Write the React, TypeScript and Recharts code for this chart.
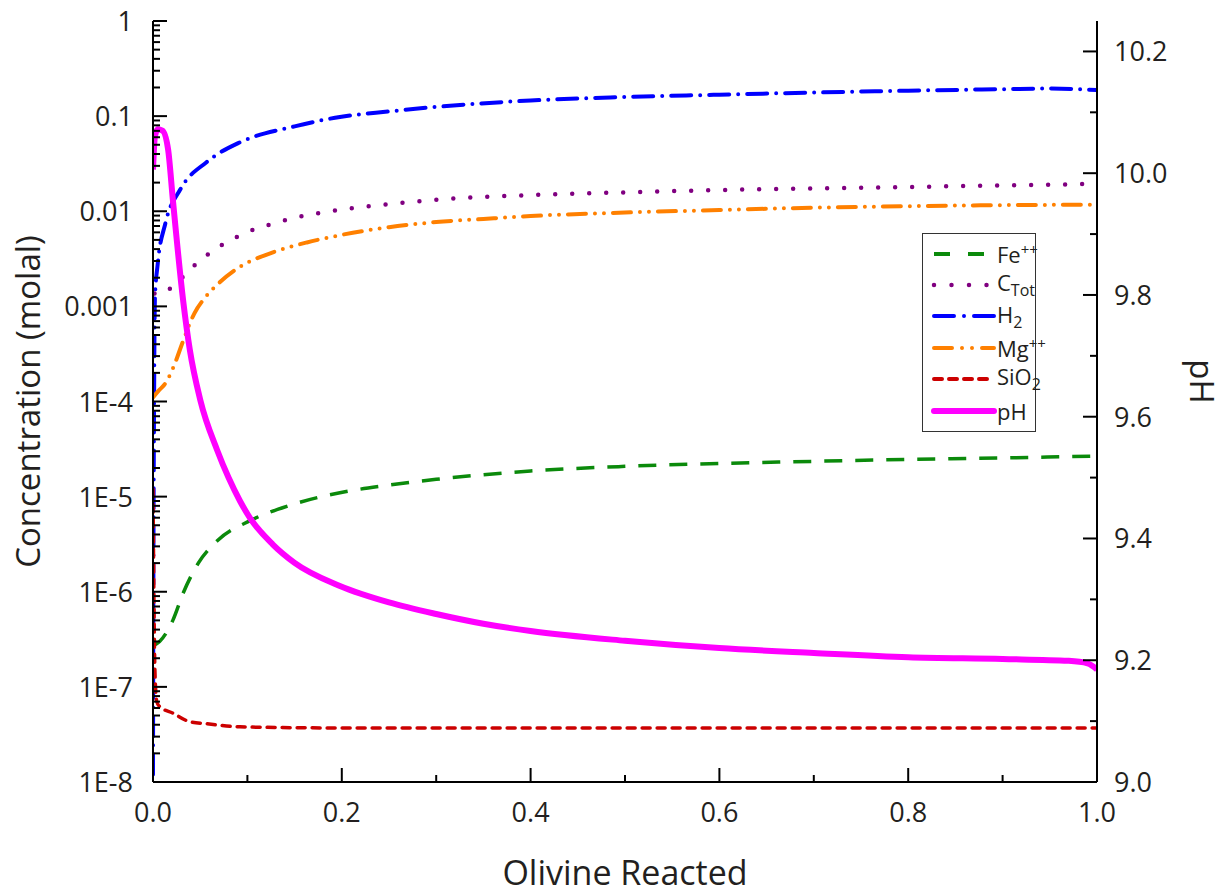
import React from 'react';
import { LineChart, Line, XAxis, YAxis } from 'recharts';

// ---- data ----
const feX = [0, 0.007, 0.021, 0.032, 0.048, 0.069, 0.103, 0.145, 0.198, 0.25, 0.3, 0.35, 0.4, 0.5, 0.6, 0.7, 0.8, 0.9, 1.0];
const feY = [2.7e-7, 3e-7, 5e-7, 9.7e-7, 2.0e-6, 3.5e-6, 5.6e-6, 8.1e-6, 1.1e-5, 1.32e-5, 1.52e-5, 1.7e-5, 1.86e-5, 2.08e-5, 2.23e-5, 2.35e-5, 2.46e-5, 2.55e-5, 2.67e-5];

const cX = [0, 0.002, 0.016, 0.042, 0.058, 0.074, 0.091, 0.108, 0.127, 0.145, 0.182, 0.24, 0.3, 0.4, 0.5, 0.6, 0.7, 0.8, 0.9, 1.0];
const cY = [0.0009, 0.0014, 0.0015, 0.0026, 0.0035, 0.0045, 0.0055, 0.0065, 0.0074, 0.0083, 0.0098, 0.0116, 0.0132, 0.0148, 0.0158, 0.0167, 0.0174, 0.018, 0.0187, 0.0194];

const h2X = [0, 0.0005, 0.001, 0.002, 0.005, 0.013, 0.029, 0.057, 0.092, 0.15, 0.198, 0.25, 0.3, 0.4, 0.5, 0.6, 0.7, 0.8, 0.9, 0.95, 1.0];
const h2Y = [1.2e-8, 3e-6, 5e-5, 0.0012, 0.0028, 0.0074, 0.017, 0.033, 0.053, 0.078, 0.098, 0.112, 0.125, 0.146, 0.159, 0.168, 0.177, 0.185, 0.192, 0.195, 0.188];

const mgX = [0, 0.006, 0.012, 0.018, 0.025, 0.031, 0.044, 0.057, 0.071, 0.092, 0.127, 0.163, 0.198, 0.25, 0.3, 0.35, 0.4, 0.5, 0.6, 0.7, 0.8, 0.9, 1.0];
const mgY = [1.1e-4, 1.3e-4, 1.5e-4, 1.9e-4, 2.8e-4, 4.1e-4, 8.5e-4, 0.0013, 0.0018, 0.0026, 0.0037, 0.0047, 0.0056, 0.0068, 0.0077, 0.0083, 0.0089, 0.0097, 0.0103, 0.0109, 0.0113, 0.0116, 0.0117];

const siX = [0, 0.001, 0.002, 0.004, 0.007, 0.021, 0.039, 0.057, 0.092, 0.2, 0.4, 0.6, 0.8, 1.0];
const siY = [1.2e-5, 8e-7, 1.5e-7, 7e-8, 6.2e-8, 5.3e-8, 4.3e-8, 4.1e-8, 3.8e-8, 3.7e-8, 3.7e-8, 3.7e-8, 3.7e-8, 3.7e-8];

const phX = [0, 0.002, 0.005, 0.01, 0.016, 0.021, 0.032, 0.039, 0.05, 0.068, 0.08, 0.092, 0.103, 0.127, 0.15, 0.198, 0.25, 0.3, 0.35, 0.4, 0.5, 0.6, 0.7, 0.8, 0.9, 0.97, 0.99, 1.0];
const phY = [10.006, 10.06, 10.072, 10.07, 10.039, 9.957, 9.79, 9.71, 9.628, 9.545, 9.5, 9.462, 9.433, 9.39, 9.36, 9.322, 9.295, 9.276, 9.26, 9.248, 9.232, 9.22, 9.212, 9.205, 9.202, 9.199, 9.195, 9.185];

const xTicks = [0, 0.1, 0.2, 0.3, 0.4, 0.5, 0.6, 0.7, 0.8, 0.9, 1.0];
const phTicks = [9.0, 9.1, 9.2, 9.3, 9.4, 9.5, 9.6, 9.7, 9.8, 9.9, 10.0, 10.1, 10.2];
const concMajor = [1e-8, 1e-7, 1e-6, 1e-5, 1e-4, 1e-3, 1e-2, 1e-1, 1];
const concLabels = ['1E-8', '1E-7', '1E-6', '1E-5', '1E-4', '0.001', '0.01', '0.1', '1'];

const concTicks: number[] = [];
for (let e = -8; e <= 0; e++) {
  concTicks.push(Math.pow(10, e));
  if (e < 0) for (let d = 2; d <= 9; d++) concTicks.push(d * Math.pow(10, e));
}

const pts = (xs: number[], ys: number[]) => xs.map((x, i) => ({ x, y: ys[i] }));

const TXT = '#231f20';
const FONT = '"Open Sans", "DejaVu Sans", sans-serif';

const isMajorLog = (v: number) => {
  const l = Math.log10(v);
  return Math.abs(l - Math.round(l)) < 1e-6;
};
const concLabel = (v: number) => {
  const i = concMajor.findIndex((m) => Math.abs(Math.log10(m) - Math.log10(v)) < 1e-6);
  return i >= 0 ? concLabels[i] : '';
};

const LeftTick = (props: any) => {
  const { x, y, payload } = props;
  const v = payload.value;
  const major = isMajorLog(v);
  return (
    <g>
      <line x1={x} x2={x + (major ? 14 : 7)} y1={y} y2={y} stroke="#000" strokeWidth={2} />
      {major && (
        <text x={x - 20} y={y + 10} textAnchor="end" fontSize={27} fontFamily={FONT} fill={TXT}>
          {concLabel(v)}
        </text>
      )}
    </g>
  );
};

const RightTick = (props: any) => {
  const { x, y, payload } = props;
  const v = payload.value;
  const major = Math.round(v * 10) % 2 === 0;
  return (
    <g>
      <line x1={x} x2={x - (major ? 14 : 7)} y1={y} y2={y} stroke="#000" strokeWidth={2} />
      {major && (
        <text x={x + 17} y={y + 10} textAnchor="start" fontSize={27} fontFamily={FONT} fill={TXT}>
          {v.toFixed(1)}
        </text>
      )}
    </g>
  );
};

const BottomTick = (props: any) => {
  const { x, y, payload } = props;
  const v = payload.value;
  const major = Math.round(v * 10) % 2 === 0;
  return (
    <g>
      <line x1={x} x2={x} y1={y} y2={y - (major ? 14 : 7)} stroke="#000" strokeWidth={2} />
      {major && (
        <text x={x} y={y + 40} textAnchor="middle" fontSize={27} fontFamily={FONT} fill={TXT}>
          {v.toFixed(1)}
        </text>
      )}
    </g>
  );
};

const TopTick = (props: any) => {
  const { x, y, payload } = props;
  const v = payload.value;
  const major = Math.round(v * 10) % 2 === 0;
  return <line x1={x} x2={x} y1={y} y2={y + (major ? 14 : 7)} stroke="#000" strokeWidth={2} />;
};

const series = [
  { key: 'fe', data: pts(feX, feY), color: '#0b8a0b', dash: '18 13', width: 3.5, cap: 'butt' as const },
  { key: 'c', data: pts(cX, cY), color: '#800080', dash: '0 17', width: 4.5, cap: 'round' as const },
  { key: 'h2', data: pts(h2X, h2Y), color: '#0000ff', dash: '20 9 0 9', width: 4, cap: 'round' as const },
  { key: 'mg', data: pts(mgX, mgY), color: '#ff8000', dash: '18 9 0 9 0 9', width: 4, cap: 'round' as const },
  { key: 'si', data: pts(siX, siY), color: '#cc0000', dash: '8 7', width: 3.5, cap: 'round' as const },
];

const legendItems = [
  { label: <>Fe<sup style={{ fontSize: 15 }}>++</sup></>, color: '#0b8a0b', dash: '16 18', width: 4, cap: 'butt' },
  { label: <>C<sub style={{ fontSize: 16 }}>Tot</sub></>, color: '#800080', dash: '0 17.5', width: 4.5, cap: 'round' },
  { label: <>H<sub style={{ fontSize: 16 }}>2</sub></>, color: '#0000ff', dash: '20 10 0 10', width: 4, cap: 'round' },
  { label: <>Mg<sup style={{ fontSize: 15 }}>++</sup></>, color: '#ff8000', dash: '18 10 0 10 0 10', width: 4, cap: 'round' },
  { label: <>SiO<sub style={{ fontSize: 16 }}>2</sub></>, color: '#cc0000', dash: '8 7', width: 4, cap: 'round' },
  { label: <>pH</>, color: '#ff00ff', dash: '', width: 6, cap: 'round' },
];

export default function App() {
  return (
    <div style={{ position: 'absolute', left: 0, top: 0, width: 1229, height: 895, background: '#fff' }}>
      <LineChart width={1229} height={895} margin={{ top: 21, right: 0, bottom: 0, left: 0 }}>
        <XAxis
          xAxisId="b"
          dataKey="x"
          type="number"
          domain={[0, 1]}
          ticks={xTicks}
          interval={0}
          height={113}
          tickSize={0}
          tickMargin={0}
          tickLine={false}
          axisLine={{ stroke: '#000', strokeWidth: 2 }}
          tick={<BottomTick />}
          allowDataOverflow
          label={(p: any) => {
            const vb = p.viewBox;
            return (
              <text x={vb.x + vb.width / 2} y={885} textAnchor="middle" fontSize={34} fontFamily={FONT} fill={TXT}>
                Olivine Reacted
              </text>
            );
          }}
        />
        <XAxis
          xAxisId="t"
          orientation="top"
          type="number"
          domain={[0, 1]}
          ticks={xTicks}
          interval={0}
          height={0}
          tickSize={0}
          tickMargin={0}
          tickLine={false}
          axisLine={{ stroke: '#000', strokeWidth: 2 }}
          tick={<TopTick />}
        />
        <YAxis
          yAxisId="c"
          scale="log"
          type="number"
          domain={[1e-8, 1]}
          ticks={concTicks}
          interval={0}
          width={153}
          tickSize={0}
          tickMargin={0}
          tickLine={false}
          axisLine={{ stroke: '#000', strokeWidth: 2 }}
          tick={<LeftTick />}
          allowDataOverflow
          label={(p: any) => {
            const vb = p.viewBox;
            const cy = vb.y + vb.height / 2;
            return (
              <text x={40} y={cy} transform={`rotate(-90 40 ${cy})`} textAnchor="middle" fontSize={33} fontFamily={FONT} fill={TXT}>
                Concentration (molal)
              </text>
            );
          }}
        />
        <YAxis
          yAxisId="ph"
          orientation="right"
          type="number"
          domain={[9, 10.25]}
          ticks={phTicks}
          interval={0}
          width={132}
          tickSize={0}
          tickMargin={0}
          tickLine={false}
          axisLine={{ stroke: '#000', strokeWidth: 2 }}
          tick={<RightTick />}
          allowDataOverflow
          label={(p: any) => {
            const vb = p.viewBox;
            const cy = vb.y + vb.height / 2 - 20;
            return (
              <text x={1190} y={cy} transform={`rotate(90 1190 ${cy})`} textAnchor="middle" fontSize={33} fontFamily={FONT} fill={TXT}>
                pH
              </text>
            );
          }}
        />
        {series.map((s) => (
          <Line
            key={s.key}
            xAxisId="b"
            yAxisId="c"
            data={s.data}
            dataKey="y"
            type="monotone"
            stroke={s.color}
            strokeWidth={s.width}
            strokeDasharray={s.dash}
            strokeLinecap={s.cap}
            dot={false}
            activeDot={false}
            isAnimationActive={false}
          />
        ))}
        <Line
          xAxisId="b"
          yAxisId="ph"
          data={pts(phX, phY)}
          dataKey="y"
          type="monotone"
          stroke="#ff00ff"
          strokeWidth={6}
          dot={false}
          activeDot={false}
          isAnimationActive={false}
        />
      </LineChart>
      <div
        style={{
          position: 'absolute',
          left: 922,
          top: 233,
          width: 114,
          height: 199,
          border: '1.5px solid #333',
          boxSizing: 'border-box',
          background: '#fff',
          fontFamily: FONT,
          color: TXT,
          fontSize: 22,
        }}
      >
        {legendItems.map((it, i) => (
          <div key={i} style={{ position: 'absolute', left: 8, top: 4 + i * 31.4, height: 31, display: 'flex', alignItems: 'center', whiteSpace: 'nowrap', lineHeight: 1 }}>
            <svg width={66} height={12} style={{ display: 'block' }}>
              <line x1={3} x2={63} y1={6} y2={6} stroke={it.color} strokeWidth={it.width} strokeDasharray={it.dash || undefined} strokeLinecap={it.cap as any} />
            </svg>
            <span style={{ marginLeft: 0 }}>{it.label}</span>
          </div>
        ))}
      </div>
    </div>
  );
}
